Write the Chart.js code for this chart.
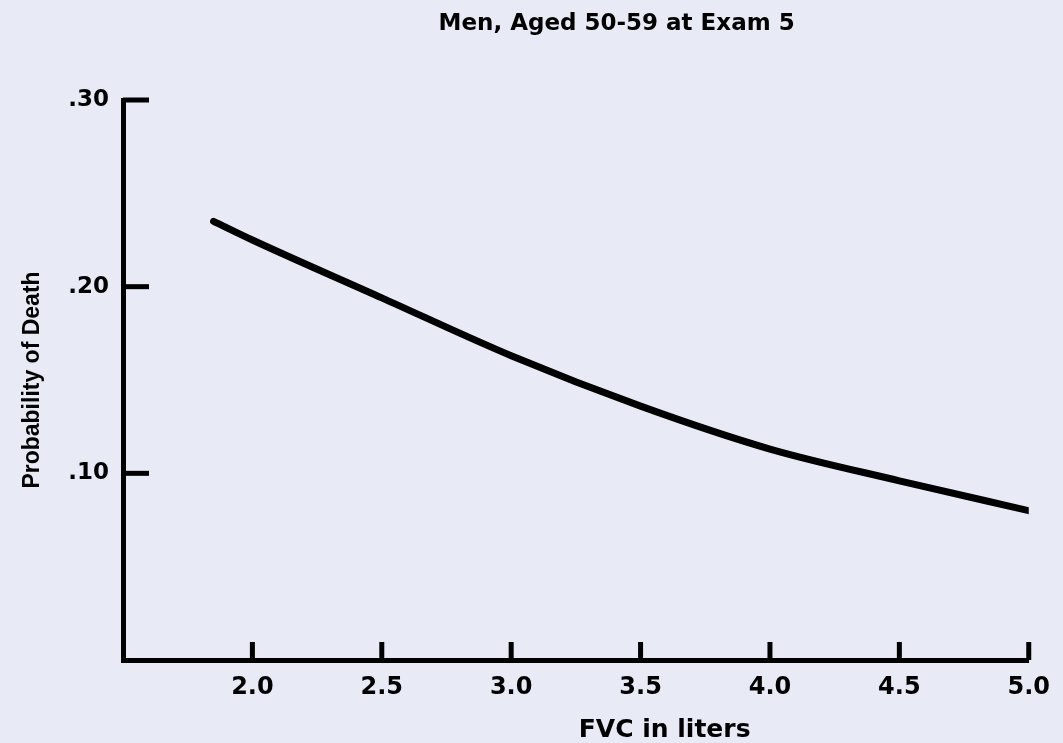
<!DOCTYPE html>
<html>
<head>
<meta charset="utf-8">
<script src="https://cdn.jsdelivr.net/npm/chart.js@4.4.1/dist/chart.umd.min.js"></script>
<style>
    body { margin: 0; background: #e8ebf5; }
    #wrap { width: 1063px; height: 743px; }
</style>
</head>
<body>
<div id="wrap"><canvas id="fvc-chart" width="1063" height="743"></canvas></div>
<script>
// values
const fvcLiters = [1.85, 2.0, 2.5, 3.0, 3.5, 4.0, 4.5, 5.0];
const probDeath = [0.235, 0.225, 0.194, 0.163, 0.136, 0.113, 0.096, 0.080];
const xTickValues = [2.0, 2.5, 3.0, 3.5, 4.0, 4.5, 5.0];
const yTickValues = [0.10, 0.20, 0.30];

const chartTitle = 'Men, Aged 50-59 at Exam 5';
const xTitle = 'FVC in liters';
const yTitle = 'Probability of Death';

document.addEventListener('DOMContentLoaded', () => {
    const ctx = document.getElementById('fvc-chart');

    // ticks in the original point into the plot area
    const inwardTicks = {
        id: 'inwardTicks',
        afterDraw(chart) {
            const { ctx, scales: { x, y } } = chart;
            ctx.save();
            ctx.strokeStyle = '#000';
            ctx.lineWidth = 5;
            yTickValues.forEach(v => {
                const py = y.getPixelForValue(v);
                ctx.beginPath();
                ctx.moveTo(x.left, py);
                ctx.lineTo(x.left + 26, py);
                ctx.stroke();
            });
            xTickValues.forEach(v => {
                const px = x.getPixelForValue(v);
                ctx.beginPath();
                ctx.moveTo(px, y.bottom);
                ctx.lineTo(px, y.bottom - 18);
                ctx.stroke();
            });
            ctx.restore();
        }
    };

    // titles sit off-centre in the original, so draw them by hand
    const offsetTitles = {
        id: 'offsetTitles',
        afterDraw(chart) {
            const { ctx, chartArea } = chart;
            const w = chartArea.right - chartArea.left;
            ctx.save();
            ctx.fillStyle = '#000';
            ctx.textAlign = 'center';
            ctx.textBaseline = 'middle';
            ctx.font = 'bold 23px "DejaVu Sans"';
            ctx.fillText(chartTitle, chartArea.left + w * 0.545, 24);
            ctx.font = 'bold 25px "DejaVu Sans"';
            ctx.fillText(xTitle, chartArea.left + w * 0.598, 730);
            ctx.restore();
        }
    };

    new Chart(ctx, {
        type: 'line',
        data: {
            datasets: [{
                label: yTitle,
                data: fvcLiters.map((f, i) => ({ x: f, y: probDeath[i] })),
                borderColor: '#000',
                borderWidth: 7,
                borderCapStyle: 'round',
                pointRadius: 0,
                fill: false,
                cubicInterpolationMode: 'monotone'
            }]
        },
        options: {
            responsive: false,
            animation: false,
            layout: { padding: { top: 100, right: 33, bottom: 43, left: 8 } },
            plugins: {
                legend: { display: false },
                tooltip: { enabled: false }
            },
            scales: {
                x: {
                    type: 'linear',
                    min: 1.5,
                    max: 5.0,
                    afterFit: scale => { scale.height = 40; },
                    grid: { drawOnChartArea: false, drawTicks: false },
                    border: { display: true, color: '#000', width: 5 },
                    ticks: {
                        stepSize: 0.5,
                        padding: 13,
                        color: '#000',
                        font: { family: 'DejaVu Sans', size: 24, weight: 'bold' },
                        callback: v => (v < 1.9 ? null : v.toFixed(1))
                    }
                },
                y: {
                    min: 0,
                    max: 0.3,
                    afterFit: scale => { scale.width = 115; },
                    grid: { drawOnChartArea: false, drawTicks: false },
                    border: { display: true, color: '#000', width: 5 },
                    title: {
                        display: true,
                        text: yTitle,
                        color: '#000',
                        padding: { top: 11, bottom: 0 },
                        font: { family: 'Liberation Sans', size: 23, weight: 'bold' }
                    },
                    ticks: {
                        stepSize: 0.1,
                        padding: 14,
                        color: '#000',
                        font: { family: 'DejaVu Sans', size: 23, weight: 'bold' },
                        callback: v => (v === 0 ? null : v.toFixed(2).replace(/^0/, ''))
                    }
                }
            }
        },
        plugins: [inwardTicks, offsetTitles]
    });
});
</script>
</body>
</html>
